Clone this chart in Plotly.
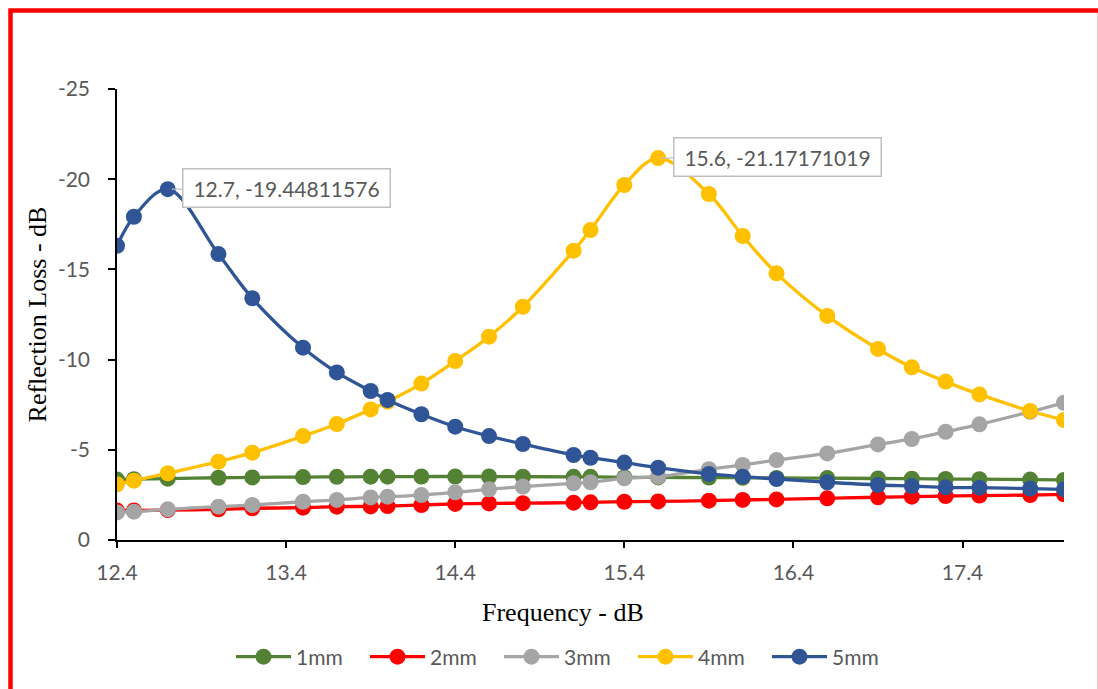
import plotly.graph_objects as go

freq = [12.4, 12.5, 12.7, 13.0, 13.2, 13.5, 13.7, 13.9, 14.0, 14.2, 14.4, 14.6, 14.8,
        15.1, 15.2, 15.4, 15.6, 15.9, 16.1, 16.3, 16.6, 16.9, 17.1, 17.3, 17.5, 17.8, 18.0]

rl_1mm = [-3.35, -3.37, -3.40, -3.45, -3.47, -3.49, -3.50, -3.51, -3.51, -3.52, -3.52, -3.52, -3.51,
          -3.50, -3.50, -3.48, -3.47, -3.46, -3.45, -3.44, -3.43, -3.41, -3.40, -3.38, -3.37, -3.35, -3.33]
rl_2mm = [-1.63, -1.64, -1.66, -1.70, -1.76, -1.79, -1.85, -1.86, -1.88, -1.94, -2.00, -2.03, -2.04,
          -2.07, -2.09, -2.12, -2.14, -2.18, -2.22, -2.25, -2.31, -2.37, -2.40, -2.44, -2.46, -2.49, -2.53]
rl_3mm = [-1.53, -1.57, -1.70, -1.85, -1.94, -2.12, -2.22, -2.36, -2.40, -2.49, -2.64, -2.81, -2.96,
          -3.14, -3.20, -3.42, -3.51, -3.92, -4.16, -4.43, -4.80, -5.30, -5.60, -6.00, -6.41, -7.11, -7.61]
rl_4mm = [-3.09, -3.29, -3.70, -4.34, -4.84, -5.76, -6.43, -7.24, -7.67, -8.67, -9.92, -11.27, -12.93,
          -16.04, -17.18, -19.68, -21.17171019, -19.18, -16.85, -14.78, -12.42, -10.59, -9.57, -8.78, -8.07, -7.15, -6.65]
rl_5mm = [-16.31, -17.92, -19.44811576, -15.85, -13.40, -10.66, -9.29, -8.26, -7.76, -6.97, -6.28, -5.76, -5.32,
          -4.71, -4.56, -4.29, -4.01, -3.66, -3.51, -3.38, -3.20, -3.05, -2.99, -2.92, -2.90, -2.85, -2.81]

series_names = ["1mm", "2mm", "3mm", "4mm", "5mm"]
series_values = [rl_1mm, rl_2mm, rl_3mm, rl_4mm, rl_5mm]
series_colors = ["#548235", "#FF0000", "#A5A5A5", "#FFC000", "#2F5597"]

y_tickvals = [0, -5, -10, -15, -20, -25]
y_ticktext = ["0", "-5", "-10", "-15", "-20", "-25"]

peak_labels = [(12.7, -19.44811576, "12.7, -19.44811576"),
               (15.6, -21.17171019, "15.6, -21.17171019")]

W, H = 1098, 689
ML, MR, MT, MB = 117, 34, 89, 149
PW, PH = W - ML - MR, H - MT - MB


def px_x(p):
    return (p - ML) / PW


def px_y(p):
    return (H - MB - p) / PH


fig = go.Figure()
for name, vals, col in zip(series_names, series_values, series_colors):
    fig.add_trace(go.Scatter(
        x=freq, y=vals, name=name, mode="lines+markers",
        line=dict(color=col, width=3.3, shape="spline", smoothing=1),
        marker=dict(color=col, size=16),
    ))

tick_font = dict(family="Lato, 'Open Sans', sans-serif", size=21, color="#595959")

fig.update_layout(
    width=W, height=H,
    margin=dict(l=ML, r=MR, t=MT, b=MB, autoexpand=False),
    paper_bgcolor="white", plot_bgcolor="white",
    showlegend=True,
    legend=dict(orientation="h", x=px_x(231), y=px_y(657), xanchor="left", yanchor="middle",
                font=tick_font, itemwidth=55, entrywidth=64, entrywidthmode="pixels",
                tracegroupgap=0, bgcolor="rgba(0,0,0,0)"),
    xaxis=dict(range=[12.4, 18.0], tick0=12.4, dtick=1, tickformat=".1f",
               showline=True, linecolor="black", linewidth=1.5,
               ticks="outside", ticklen=6, tickcolor="black", tickwidth=1.5,
               showgrid=False, zeroline=False, tickfont=tick_font,
               ticklabelstandoff=7),
    yaxis=dict(range=[0, -25], tickvals=y_tickvals, ticktext=y_ticktext,
               showline=True, linecolor="black", linewidth=1.5,
               ticks="outside", ticklen=7, tickcolor="black", tickwidth=1.5,
               showgrid=False, zeroline=False, tickfont=tick_font,
               ticklabelstandoff=14,
               title=dict(text="Reflection Loss - dB",
                          font=dict(family="'Liberation Serif', 'Times New Roman', serif", size=26, color="black"),
                          standoff=4)),
    font=dict(family="Lato, sans-serif"),
)

annotations = []
for xv, yv, txt in peak_labels:
    annotations.append(dict(
        x=xv, y=yv, xref="x", yref="y", text=txt,
        showarrow=True, arrowhead=0, arrowwidth=1.2, arrowcolor="#BFBFBF",
        ax=119, ay=-1, standoff=4,
        font=dict(family="Lato, 'Open Sans', sans-serif", size=21, color="#595959"),
        bgcolor="white", bordercolor="#BFBFBF", borderwidth=1.5, borderpad=3,
        width=200, height=31, align="center",
    ))
annotations.append(dict(
    x=px_x(563), y=px_y(612), xref="paper", yref="paper", text="Frequency - dB",
    showarrow=False, xanchor="center", yanchor="middle",
    font=dict(family="'Liberation Serif', 'Times New Roman', serif", size=26, color="black"),
))
fig.update_layout(annotations=annotations)

fig.add_shape(type="rect", xref="paper", yref="paper",
              x0=px_x(10.5), x1=px_x(1100), y0=px_y(720), y1=px_y(10.5),
              line=dict(color="#FF0000", width=4.5), fillcolor="rgba(0,0,0,0)", layer="below")

fig.write_html("out.html")
